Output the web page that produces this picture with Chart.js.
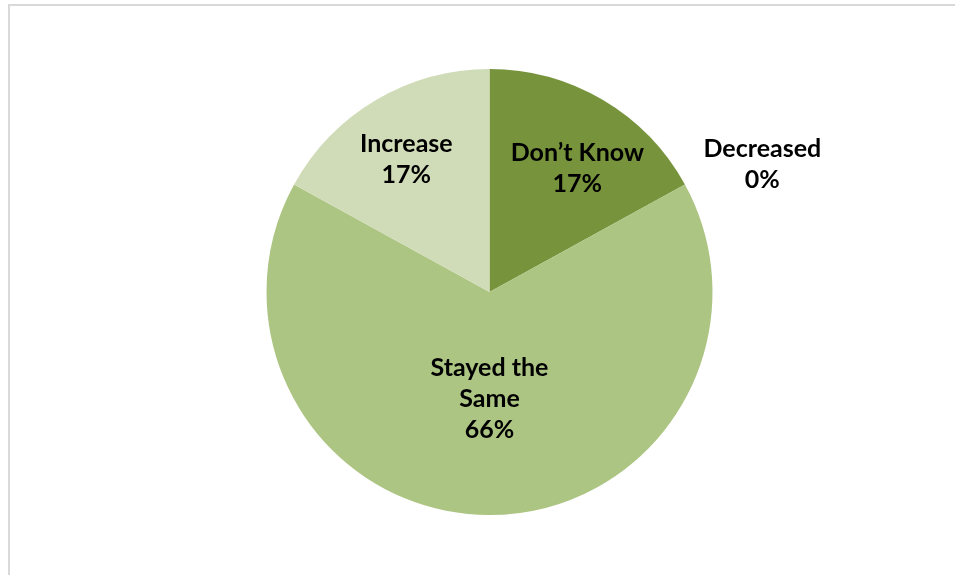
<!DOCTYPE html>
<html>
<head>
<meta charset="utf-8">
<script src="https://cdn.jsdelivr.net/npm/chart.js@4"></script>
<style>
  html, body { margin: 0; padding: 0; background: #fff; }
  #wrap { position: relative; width: 955px; height: 575px; }
  #frame { position: absolute; left: 8px; top: 4px; right: 0; bottom: 0;
           border-left: 2px solid #d9d9d9; border-top: 2px solid #d9d9d9; }
  canvas { position: absolute; left: 0; top: 0; }
</style>
</head>
<body>
<div id="wrap">
  <div id="frame"></div>
  <canvas id="myChart" width="955" height="575"></canvas>
</div>
<script>
// answers, clockwise from 12 o'clock
const categories = ['Don\u2019t Know', 'Decreased', 'Stayed the Same', 'Increase'];
const percents = [17, 0, 66, 17];
const labelLines = [['Don\u2019t Know'], ['Decreased'], ['Stayed the', 'Same'], ['Increase']];

const sliceColors = ['#77933c', '#4f6228', '#adc583', '#d0dcb7'];
// label placement: fraction of radius, and a small turn (degrees) off the slice middle
const labelRadius = [0.68, 1.35, 0.48, 0.70];
const labelTurn = [4.8, 3.8, 0, -1.6];

const pieLabels = {
    id: 'pieLabels',
    afterDatasetsDraw(chart) {
        const ctx = chart.ctx;
        const meta = chart.getDatasetMeta(0);
        ctx.save();
        ctx.font = 'bold 25px Lato, "Open Sans", sans-serif';
        ctx.fillStyle = '#000';
        ctx.textAlign = 'center';
        ctx.textBaseline = 'middle';
        meta.data.forEach((arc, i) => {
            const p = arc.getProps(['x', 'y', 'startAngle', 'endAngle', 'outerRadius'], true);
            const mid = (p.startAngle + p.endAngle) / 2 + labelTurn[i] * Math.PI / 180;
            const r = p.outerRadius * labelRadius[i];
            const cx = p.x + Math.cos(mid) * r;
            const cy = p.y + Math.sin(mid) * r;
            const lines = labelLines[i].concat([percents[i] + '%']);
            const lh = 31;
            const top = cy - (lines.length - 1) * lh / 2;
            lines.forEach((t, k) => ctx.fillText(t, cx, top + k * lh));
        });
        ctx.restore();
    }
};

const ctx = document.getElementById('myChart').getContext('2d');
new Chart(ctx, {
    type: 'pie',
    data: {
        labels: categories,
        datasets: [{
            data: percents,
            backgroundColor: sliceColors,
            borderWidth: 0
        }]
    },
    options: {
        responsive: false,
        animation: false,
        layout: { padding: { top: 69, bottom: 60, left: 34, right: 10 } },
        plugins: {
            legend: { display: false },
            tooltip: { enabled: false }
        }
    },
    plugins: [pieLabels]
});
</script>
</body>
</html>
